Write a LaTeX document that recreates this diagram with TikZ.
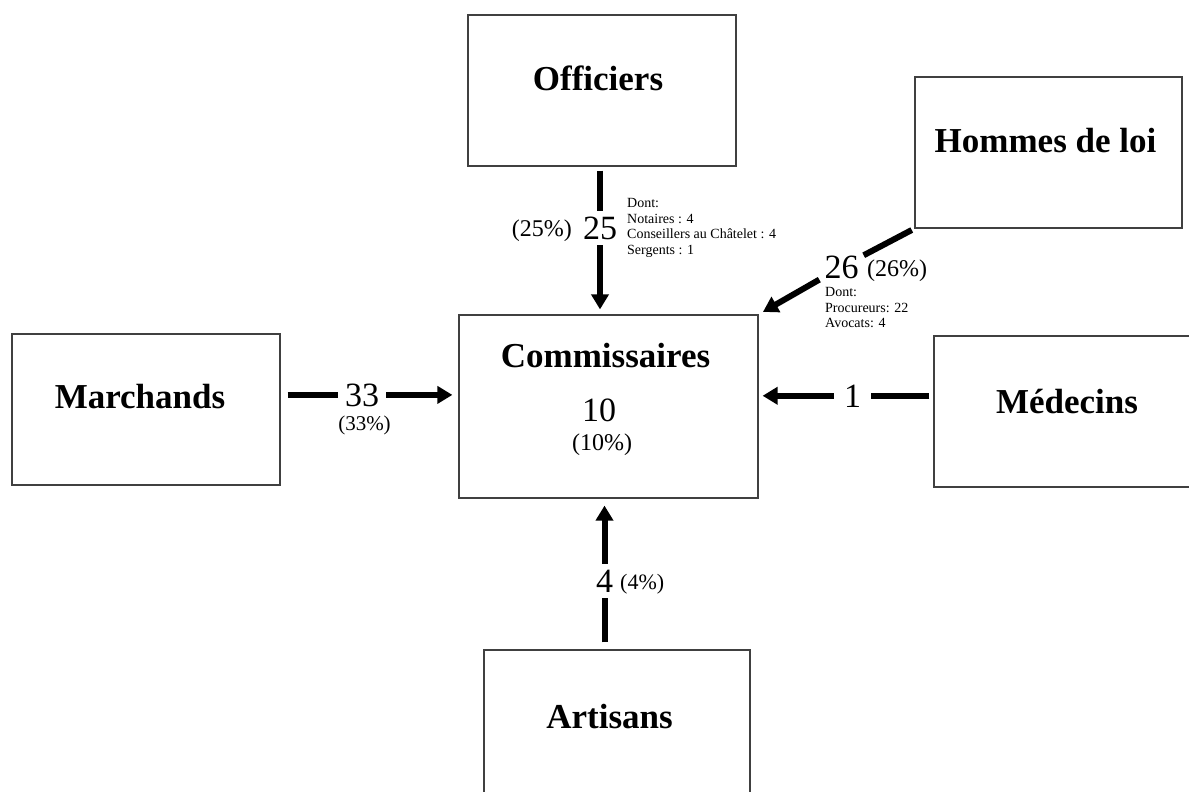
\documentclass[tikz,border=0pt]{standalone}
\usepackage{fontspec}
\setmainfont{Liberation Serif}
\usetikzlibrary{arrows.meta}
\begin{document}
\begin{tikzpicture}[x=1pt,y=-1pt,
  box/.style={draw=black!75, line width=1.2pt, rectangle, inner sep=0pt, fill=white},
  title/.style={font=\fontsize{35}{42}\selectfont\bfseries, inner sep=0pt, anchor=base},
  num/.style={font=\fontsize{34}{40}\selectfont, anchor=base},
  pct/.style={font=\fontsize{24}{28}\selectfont, inner sep=0pt},
  note/.style={font=\fontsize{14}{15.8}\selectfont, align=left, inner sep=0pt, anchor=north west},
  seg/.style={line width=6pt},
  arr/.style={line width=6pt, -{Triangle[length=15pt,width=17pt]}}
]
\useasboundingbox (0,0) rectangle (1189,792);
\fill[white] (0,0) rectangle (1189,792);
\clip (0,0) rectangle (1189,792);

% boxes
\node[box, minimum width=268pt, minimum height=151pt] (off) at (602,90.5) {};
\node[box, minimum width=267pt, minimum height=151pt] (hom) at (1048.5,152.5) {};
\node[box, minimum width=299pt, minimum height=183pt] (com) at (608.5,406.5) {};
\node[box, minimum width=268pt, minimum height=151pt] (mar) at (146,409.5) {};
\node[box, minimum width=267pt, minimum height=151pt] (med) at (1067.5,411.5) {};
\node[box, minimum width=266pt, minimum height=150pt] (art) at (617,725) {};

% titles
\node[title] (offt) at (598,91) {Officiers};
\node[title] (homt) at (1045.5,152) {Hommes de loi};
\node[title] (comt) at (605.5,367) {Commissaires};
\node[title] (mart) at (140,408) {Marchands};
\node[title] (medt) at (1067,413) {Médecins};
\node[title] (artt) at (609.5,728) {Artisans};
\node[num, inner sep=0pt] (c10) at (599,421) {10};
\node[pct, anchor=base] (c10p) at (602,450) {(10\%)};

% Officiers -> Commissaires
\node[num, inner xsep=2pt, inner ysep=5.5pt] (n25) at (600,239) {25};
\node[pct, anchor=base east] (p25) at (572,236) {(25\%)};
\node[note] (d25) at (627,198) {Dont:\\Notaires : 4\\Conseillers au Châtelet : 4\\Sergents : 1};
\draw[seg, shorten <=4pt] (off.south -| n25) -- (n25);
\draw[arr, shorten >=5pt] (n25) -- (n25 |- com.north);

% Marchands -> Commissaires
\node[num, inner xsep=7pt, inner ysep=2pt] (n33) at (362,406) {33};
\node[pct, anchor=base, font=\fontsize{21}{25}\selectfont] (p33) at (364.5,430) {(33\%)};
\draw[seg, shorten <=7pt] (mar.east |- n33) -- (n33);
\draw[arr, shorten >=6pt] (n33) -- (n33 -| com.west);

% Medecins -> Commissaires
\node[num, inner xsep=10pt, inner ysep=2pt] (n1) at (852.5,407) {1};
\draw[seg, shorten <=4pt] (med.west |- n1) -- (n1);
\draw[arr, shorten >=4pt] (n1) -- (n1 -| com.east);

% Artisans -> Commissaires
\node[num, inner xsep=2pt, inner ysep=5.5pt] (n4) at (604.5,592) {4};
\node[pct, anchor=base west, font=\fontsize{22}{26}\selectfont] (p4) at (620,589) {(4\%)};
\draw[seg, shorten <=7pt] (art.north -| n4) -- (n4);
\draw[arr, shorten >=7pt] (n4) -- (n4 |- com.south);

% Hommes de loi -> Commissaires
\node[num, inner sep=5pt] (n26) at (841.5,278) {26};
\node[pct, anchor=base west] (p26) at (867,276) {(26\%)};
\node[note] (d26) at (825,287) {Dont:\\Procureurs: 22\\Avocats: 4};
\draw[seg, shorten <=3pt] (hom.south west) -- (n26);
\draw[arr, shorten >=5pt] (n26) -- (com.north east);
\end{tikzpicture}
\end{document}
